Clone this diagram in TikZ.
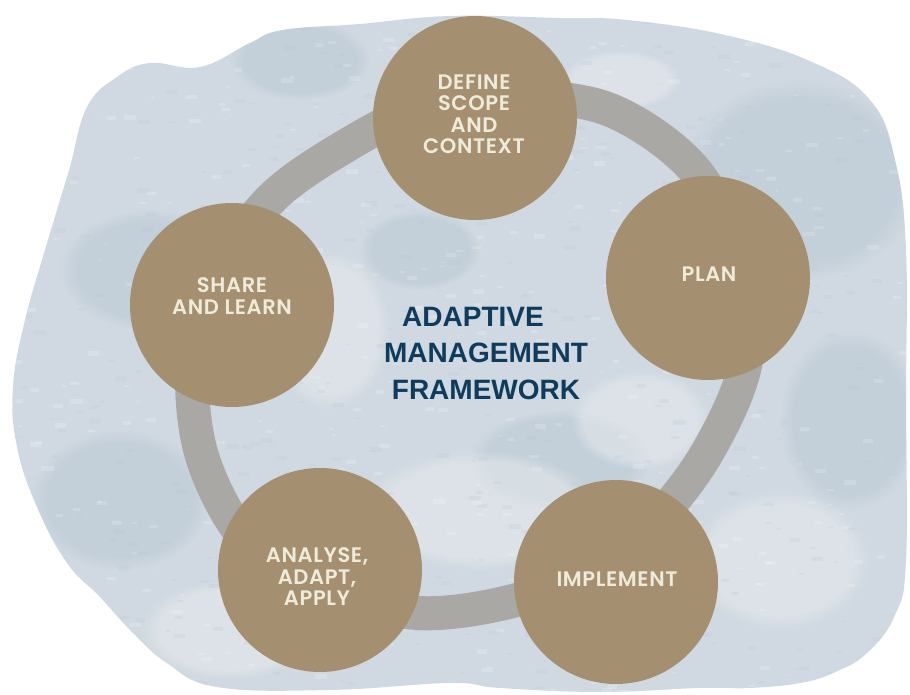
\documentclass[tikz,border=0pt]{standalone}
\usepackage{fontspec}
\setmainfont{Liberation Sans}
\newfontfamily\stagefont{Poppins SemiBold}[LetterSpace=3]
\newfontfamily\titlefont{Liberation Sans}
\usetikzlibrary{fadings}
\definecolor{blobbase}{HTML}{D0D9E1}
\definecolor{blobdark}{HTML}{B4C3D1}
\definecolor{bloblight}{HTML}{E4E8EB}
\definecolor{ringgray}{HTML}{A9A8A4}
\definecolor{stagefill}{HTML}{A48F70}
\definecolor{stagetextcol}{HTML}{EEEBD9}
\definecolor{titlecol}{HTML}{0F3C5C}
\tikzset{
  stage/.style={circle, fill=stagefill, draw=none, minimum size=204pt, inner sep=0pt},
  stagetext/.style={text=stagetextcol, align=center, inner sep=0pt,
    font=\stagefont\fontsize{21}{21.5}\selectfont},
  titletext/.style={text=titlecol, align=center, inner sep=0pt,
    font=\titlefont\bfseries\fontsize{28}{36.5}\selectfont},
  ringline/.style={draw=ringgray, line width=34pt},
  patchdark/.style={fill=blobdark, path fading=circle with fuzzy edge 20 percent, fill opacity=0.45},
  patchlight/.style={fill=bloblight, path fading=circle with fuzzy edge 20 percent, fill opacity=0.6}
}
\begin{document}
\begin{tikzpicture}[x=1pt,y=-1pt]
\useasboundingbox (0,0) rectangle (910,695);
\fill[white] (0,0) rectangle (910,695);
% watercolour blob
\path[save path=\blobpath] plot[smooth cycle, tension=0.7] coordinates {
 (70,167) (87,107) (117,77) (150,63) (200,67) (250,43) (283,30) (360,24)
 (450,16) (560,18) (627,20) (725,35) (812,62) (870,100) (895,160) (906,250)
 (906,400) (906,560) (895,615) (867,653) (833,673) (800,683) (750,688)
 (700,688) (600,692) (500,688) (450,683) (330,690) (217,687) (167,663)
 (133,633) (100,597) (67,563) (37,507) (17,447) (13,387) (25,320) (45,250)
 (60,200)};
\fill[use path=\blobpath, blobbase];
\begin{scope}
  \path[use path=\blobpath, clip];
  \fill[patchdark] (800,180) ellipse (120 and 100);
  \fill[patchdark] (150,270) ellipse (90 and 60);
  \fill[patchdark] (850,420) ellipse (70 and 90);
  \fill[patchdark] (120,500) ellipse (90 and 70);
  \fill[patchdark] (560,460) ellipse (90 and 50);
  \fill[patchdark] (300,60) ellipse (70 and 40);
  \fill[patchdark] (420,250) ellipse (60 and 40);
  \fill[patchlight] (480,510) ellipse (120 and 60);
  \fill[patchlight] (640,420) ellipse (70 and 50);
  \fill[patchlight] (330,330) ellipse (60 and 80);
  \fill[patchlight] (780,560) ellipse (90 and 70);
  \fill[patchlight] (230,630) ellipse (90 and 50);
  \fill[patchlight] (620,80) ellipse (60 and 30);
  \pgfmathsetseed{7}
  \foreach \i in {1,...,900}{
    \pgfmathsetmacro\px{rnd*910}
    \pgfmathsetmacro\py{rnd*695}
    \pgfmathsetmacro\pr{1+rnd*4}
    \pgfmathsetmacro\pc{rnd}
    \ifdim\pc pt<0.5pt
      \fill[white, opacity=0.18] (\px,\py) rectangle ++({2.5*\pr},\pr);
    \else
      \fill[blobdark, opacity=0.18] (\px,\py) rectangle ++({2.5*\pr},\pr);
    \fi
  }
\end{scope}
% ring
\draw[ringline, shift={(465,360)}] plot[smooth cycle, tension=0.55] coordinates {
 (0:281) (20:260) (40:249) (60:246) (80:246) (100:257) (120:270) (140:283)
 (160:280) (180:272) (200:262) (220:252) (240:245) (260:255) (280:268)
 (300:289) (320:298) (340:292)};
% stages
\node[stage] (define) at (475,118) {};
\node[stage] (plan) at (708,278) {};
\node[stage] (implement) at (616,582) {};
\node[stage] (analyse) at (320,570) {};
\node[stage] (share) at (232,305) {};
\node[stagetext] (definetxt) at (474,114) {DEFINE\\SCOPE\\AND\\CONTEXT};
\node[stagetext] (plantxt) at (709,274) {PLAN};
\node[stagetext] (implementtxt) at (617,579) {IMPLEMENT};
\node[stagetext] (analysetxt) at (317,577) {ANALYSE,\\ADAPT,\\APPLY};
\node[stagetext] (sharetxt) at (232,296) {SHARE\\AND LEARN};
% title
\node[titletext] (title) at (486,353.5) {ADAPTIVE\hspace*{26pt}\\MANAGEMENT\\FRAMEWORK};
\end{tikzpicture}
\end{document}
